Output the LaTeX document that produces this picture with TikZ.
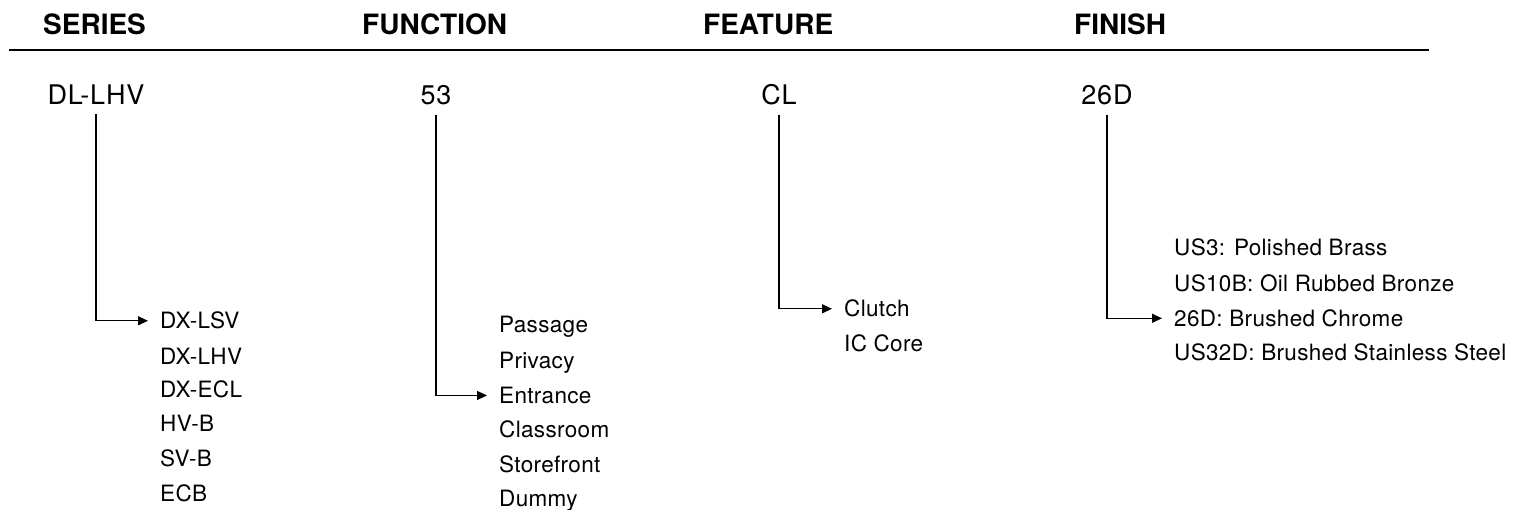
\documentclass[tikz,border=0pt]{standalone}
\usepackage{fontspec}
\setmainfont{TeX Gyre Heros}
\newfontfamily\codefont{TeX Gyre Heros}[LetterSpace=3]
\newfontfamily\optfont{TeX Gyre Heros}[LetterSpace=1.5]
\usetikzlibrary{arrows.meta}
\begin{document}
\begin{tikzpicture}[x=1pt,y=-1pt,
  head/.style={anchor=base west,inner sep=0pt,font=\fontsize{28}{32}\selectfont\bfseries},
  code/.style={anchor=base,inner xsep=0pt,inner ysep=9pt,font=\codefont\fontsize{27}{32}\selectfont},
  opt/.style={anchor=base west,inner sep=0pt,font=\optfont\fontsize{22.5}{26}\selectfont},
  rule/.style={line width=1.2pt},
  link/.style={line width=1.2pt,-{Triangle[length=10pt,width=9pt]},shorten >=12pt}]
\useasboundingbox (0,0) rectangle (1520,510);
% headers
\node[head] (hs) at (43,35) {SERIES};
\node[head] (hf) at (362,35) {FUNCTION};
\node[head] (ht) at (703,35) {FEATURE};
\node[head] (hn) at (1074,35) {FINISH};
\coordinate (rl) at (9,50);
\coordinate (rr) at (1429,50);
\draw[rule] (rl) -- (rr);
% codes
\node[code] (cs) at (96,105) {DL-LHV};
\node[code] (cf) at (436,105) {53};
\node[code] (ct) at (779,105) {CL};
\node[code] (cn) at (1107,105) {26D};
% series options
\node[opt] (s1) at (160,329) {DX-LSV};
\node[opt] (s2) at (160,364) {DX-LHV};
\node[opt] (s3) at (160,397) {DX-ECL};
\node[opt] (s4) at (160,431) {HV-B};
\node[opt] (s5) at (160,466) {SV-B};
\node[opt] (s6) at (160,501) {ECB};
% function options
\node[opt] (f1) at (499,333) {Passage};
\node[opt] (f2) at (499,368.5) {Privacy};
\node[opt] (f3) at (499,403.5) {Entrance};
\node[opt] (f4) at (499,437.5) {Classroom};
\node[opt] (f5) at (499,472) {Storefront};
\node[opt] (f6) at (499,506.5) {Dummy};
% feature options
\node[opt] (t1) at (844,317) {Clutch};
\node[opt] (t2) at (844,352) {IC Core};
% finish options
\node[opt] (n1) at (1174,256) {US3: Polished Brass};
\node[opt] (n2) at (1174,291.5) {US10B: Oil Rubbed Bronze};
\node[opt] (n3) at (1174,326.5) {26D: Brushed Chrome};
\node[opt] (n4) at (1174,360.5) {US32D: Brushed Stainless Steel};
% connectors
\draw[link] (cs.south) |- (s1.west);
\draw[link] (cf.south) |- (f3.west);
\draw[link] (ct.south) |- (t1.west);
\draw[link] (cn.south) |- (n3.west);
\end{tikzpicture}
\end{document}
